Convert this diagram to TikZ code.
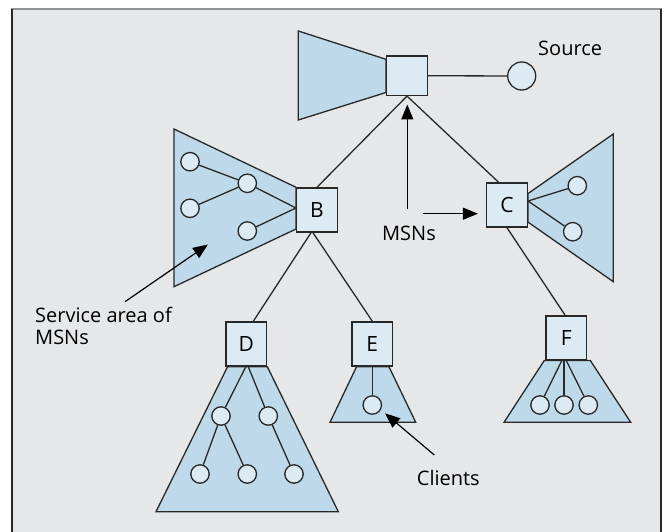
\documentclass[tikz,border=0pt]{standalone}
\usepackage{fontspec}
\setmainfont{Open Sans}
\usetikzlibrary{calc,arrows.meta}
\definecolor{panel}{RGB}{230,231,232}
\definecolor{areafill}{RGB}{190,218,234}
\definecolor{nodefill}{RGB}{220,234,244}
\definecolor{ink}{RGB}{40,40,40}
\pgfdeclarelayer{bg}
\pgfdeclarelayer{area}
\pgfsetlayers{bg,area,main}
\tikzset{
  msn/.style={draw=ink, fill=nodefill, line width=1.5pt, inner sep=0pt,
    minimum width=40.6pt, minimum height=44pt, font=\fontsize{21}{24}\selectfont},
  client/.style={circle, draw=ink, fill=nodefill, line width=1.3pt, inner sep=0pt,
    minimum size=18.4pt},
  area/.style={draw=ink, fill=areafill, line width=1.3pt, line join=miter},
  link/.style={draw=ink, line width=1.3pt},
  pointer/.style={draw=black, line width=1.2pt, -{Triangle[length=15pt,width=12pt]}},
  label/.style={font=\fontsize{20}{22}\selectfont, inner sep=0pt, text=black}
}
\begin{document}
\begin{tikzpicture}[x=1pt,y=-1pt]
\useasboundingbox (0,0) rectangle (669,532);
\begin{pgfonlayer}{bg}
  \fill[panel] (12,9) rectangle (661,532);
  \draw[gray!85!white, line width=2pt] (11,9) -- (662,9);
  \draw[ink, line width=2pt] (12,9) -- (12,532);
  \draw[ink, line width=2pt] (661,9) -- (661,532);
\end{pgfonlayer}

% MSN boxes
\node[msn, minimum height=39.3pt] (root) at (407,75.7) {};
\node[msn] (B) at (317,210) {B};
\node[msn] (C) at (507,205) {C};
\node[msn] (D) at (246.3,344) {D};
\node[msn] (E) at (372.3,344) {E};
\node[msn] (F) at (566.3,337.8) {F};

% source
\node[client, minimum size=28pt] (src) at (521.7,76) {};
\node[label, anchor=west] (srclabel) at (538,48) {Source};

% service areas
\begin{pgfonlayer}{area}
  \path[area] (298.3,31) -- ($(root.north west)+(0,4)$) -- ($(root.south west)+(0,-3.6)$) -- (298.3,120) -- cycle;
  \path[area] (174,129) -- (B.north west) -- ($(B.south west)+(0,-3.7)$) -- (174,286.7) -- cycle;
  \path[area] (613.3,134) -- ($(C.north east)+(0,11.3)$) -- ($(C.south east)+(0,-5.6)$) -- (613.3,281.7) -- cycle;
  \path[area] ($(D.south west)+(2.3,0)$) -- (D.south east) -- (338.3,511.7) -- (156,511.7) -- cycle;
  \path[area] ($(E.south west)+(5.3,0)$) -- ($(E.south east)+(-4.4,0)$) -- (415.7,422.3) -- (330,422.3) -- cycle;
  \path[area] ($(F.south west)+(-1,0)$) -- ($(F.south east)+(3,0)$) -- (630.7,422.3) -- (504,422.3) -- cycle;
\end{pgfonlayer}

% clients in the area of B
\node[client] (b1) at (190,161.7) {};
\node[client] (b2) at (190,208.3) {};
\node[client] (b3) at (247.3,183.3) {};
\node[client] (b4) at (247.3,231) {};
\coordinate (Bin) at ($(B.west)+(0,-2)$);
\draw[link] (b1) -- (b3);
\draw[link] (b2) -- (b3);
\draw[link] (b3) -- (Bin);
\draw[link] (b4) -- (Bin);

% clients in the area of C
\node[client] (c1) at (577.3,185.7) {};
\node[client] (c2) at (572.7,231.7) {};
\coordinate (Cout) at ($(C.east)+(0,-4)$);
\draw[link] (Cout) -- (c1);
\draw[link] (Cout) -- (c2);

% clients in the area of D
\node[client] (d1) at (221,416) {};
\node[client] (d2) at (268.3,416) {};
\node[client] (d3) at (200,474) {};
\node[client] (d4) at (247.3,474) {};
\node[client] (d5) at (294,474) {};
\draw[link] ($(D.south)+(-0.5,0)$) -- (d1);
\draw[link] ($(D.south)+(2,0)$) -- (d2);
\draw[link] (d1) -- (d3);
\draw[link] (d1) -- (d4);
\draw[link] (d2) -- (d5);

% client in the area of E
\node[client] (e1) at (372.3,405) {};
\draw[link] (E.south) -- (e1);

% clients in the area of F
\node[client] (f1) at (540,405) {};
\node[client] (f2) at (564,405) {};
\node[client] (f3) at (588.3,405) {};
\draw[link] ($(F.south)+(-4.5,0)$) -- (f1);
\draw[link] ($(F.south)+(-2.3,0)$) -- (f2);
\draw[link] ($(F.south)+(0,0)$) -- (f3);

% MSN tree
\draw[link] (root) -- (src);
\draw[link] (root.south) -- (B.north);
\draw[link] (root.south) -- ($(C.north west)!0.3!(C.north east)$);
\draw[link] ($(B.south)+(-6,0)$) -- ($(D.north)+(7,0)$);
\draw[link] ($(B.south)+(-4,0)$) -- (E.north);
\draw[link] (C.south) -- ($(F.north)+(-1.3,0)$);

% labels and pointers
\node[label] (msns) at (409,233) {MSNs};
\coordinate (msnup) at (407.3,209);
\coordinate (msnright) at (422.7,213.7);
\draw[pointer] (msnup) -- (407.3,104.5);
\draw[pointer] (msnright) -- ($(C.west)+(-8,8.7)$);

\node[label, anchor=north west, align=left] (svc) at (35,307) {Service area of\\MSNs};
\coordinate (svctail) at (125,301.7);
\coordinate (svctip) at (208,244.5);
\draw[pointer] (svctail) -- (svctip);

\node[label] (clients) at (448.3,478.3) {Clients};
\coordinate (clitail) at (434.3,455);
\coordinate (clitip) at (385,413.3);
\draw[pointer] (clitail) -- (clitip);
\end{tikzpicture}
\end{document}
